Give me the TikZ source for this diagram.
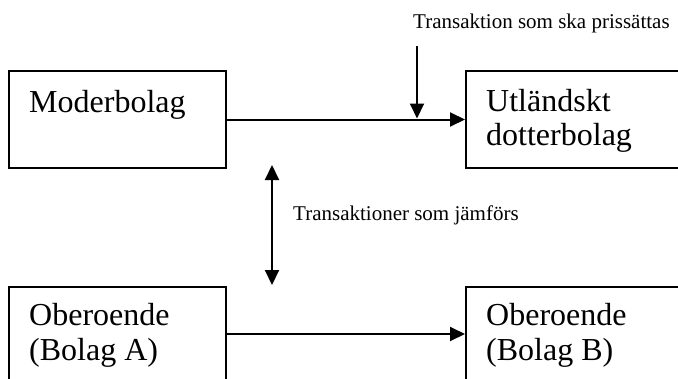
\documentclass[tikz,border=0pt]{standalone}
\usepackage{fontspec}
\setmainfont{Liberation Serif}
\usetikzlibrary{arrows.meta}
\begin{document}
\begin{tikzpicture}[x=1pt,y=-1pt,
  box/.style={draw,line width=2pt,minimum width=217pt,minimum height=97pt,inner sep=0pt,anchor=north west},
  bigtxt/.style={font=\fontsize{32}{34}\selectfont,anchor=base west,inner sep=0pt,align=left},
  smalltxt/.style={font=\fontsize{21}{23}\selectfont,anchor=base west,inner sep=0pt},
  arr/.style={line width=2pt,-{Triangle[length=15pt,width=14pt]}},
  darr/.style={line width=2pt,{Triangle[length=15pt,width=14pt]}-{Triangle[length=15pt,width=14pt]}}]
\useasboundingbox (0,0) rectangle (678,378);
\clip (0,0) rectangle (678,378);
% boxes
\node[box] (mb) at (8,70) {};
\node[box,minimum width=240pt] (ud) at (465,70) {};
\node[box,minimum height=94pt] (oa) at (8,286) {};
\node[box,minimum width=240pt,minimum height=94pt] (ob) at (465,286) {};
% texts
\node[bigtxt] (tmb) at (29,112) {Moderbolag};
\node[bigtxt] (tud1) at (486,111) {Utländskt};
\node[bigtxt] (tud2) at (486,145) {dotterbolag};
\node[bigtxt] (toa1) at (29,325) {Oberoende};
\node[bigtxt] (toa2) at (29,360) {(Bolag A)};
\node[bigtxt] (tob1) at (486,325) {Oberoende};
\node[bigtxt] (tob2) at (486,360) {(Bolag B)};
\node[smalltxt] (l1) at (413,28) {Transaktion som ska prissättas};
\node[smalltxt] (l2) at (293,220) {Transaktioner som jämförs};
% connectors
\draw[arr] (mb.east) -- (ud.west);
\draw[arr] (oa.east) -- (ob.west);
\coordinate (ptop) at (417,46);
\coordinate (pon) at (417,118.5);
\draw[arr] (ptop) -- (pon);
\coordinate (da) at (272,165);
\coordinate (db) at (272,285);
\draw[darr] (da) -- (db);
\end{tikzpicture}
\end{document}
